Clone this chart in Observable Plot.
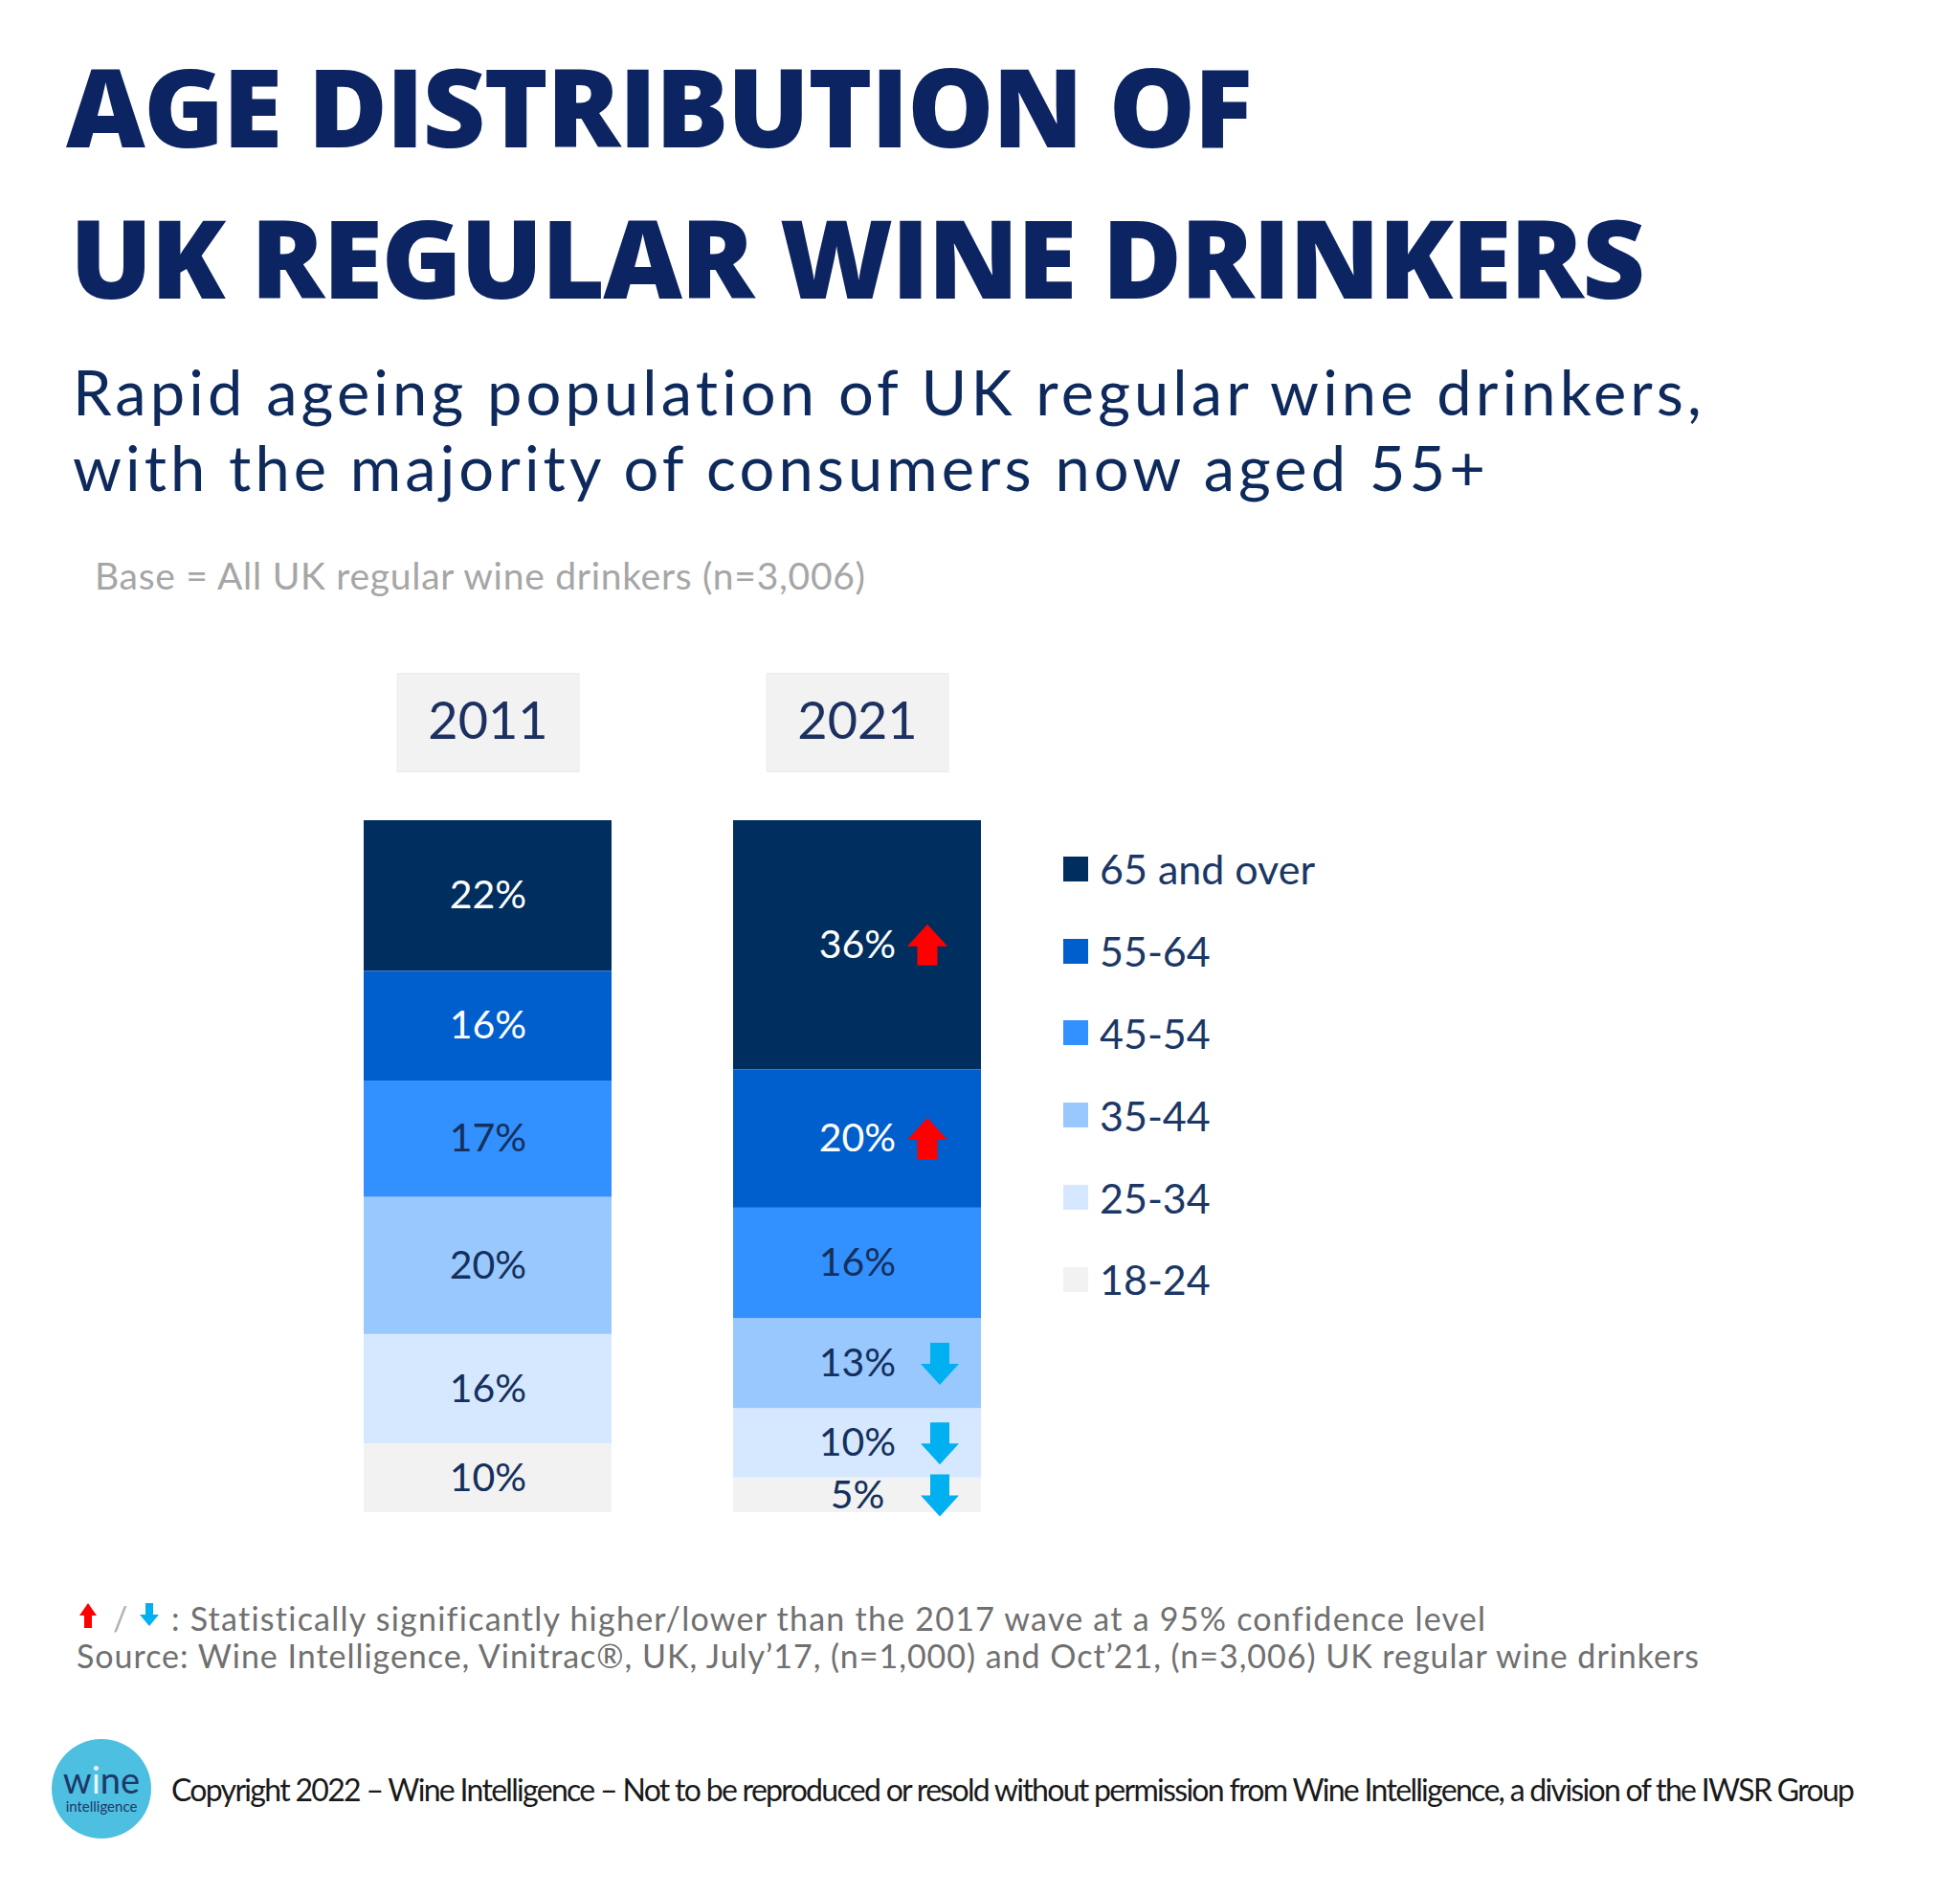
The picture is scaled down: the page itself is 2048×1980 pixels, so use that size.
<!DOCTYPE html>
<html>
<head>
<meta charset="utf-8">
<script src="https://cdn.jsdelivr.net/npm/d3@7"></script>
<script src="https://cdn.jsdelivr.net/npm/@observablehq/plot@0.6"></script>
<style>
  html, body { margin: 0; padding: 0; background: #ffffff; }
  #page { position: relative; width: 2048px; height: 1980px; overflow: hidden; background: #fff; }
  #overlay { position: absolute; left: 0; top: 0; }
  #chart { position: absolute; left: 0; top: 703px; }
  #legend { position: absolute; left: 1111px; top: 865px; width: 500px; }
  #legend > * { font-family: Lato, sans-serif !important; font-size: 43px !important; color: #1b3766 !important; margin: 0 !important; }
  #legend > * > div { display: flex !important; align-items: center !important; height: 85.8px !important; padding: 0 !important; }
  #legend > * > div > svg { margin-right: 12px !important; flex-shrink: 0; }
</style>
</head>
<body>
<div id="page">
  <svg id="overlay" width="2048" height="1980">
    <g font-family="'Open Sans', sans-serif" font-weight="800" fill="#0c2461" font-size="114">
      <text x="69" y="154" data-w="1240">AGE DISTRIBUTION OF</text>
      <text x="73" y="312" data-w="1646">UK REGULAR WINE DRINKERS</text>
    </g>
    <g font-family="Lato, sans-serif" fill="#0e2a5c" font-size="65">
      <text x="76" y="434" data-w="1703">Rapid ageing population of UK regular wine drinkers,</text>
      <text x="76" y="513" data-w="1476">with the majority of consumers now aged 55+</text>
    </g>
    <text x="99" y="616" font-family="Lato, sans-serif" font-size="39" fill="#a6a6a6" data-w="805">Base = All UK regular wine drinkers (n=3,006)</text>
    <g font-family="Lato, sans-serif" font-size="34" fill="#707070">
      <path d="M92,1675 L101,1688 L96,1688 L96,1701 L88,1701 L88,1688 L83,1688 Z" fill="#ff0000"/>
      <text x="118" y="1704" fill="#b0b0b0">/</text>
      <path d="M152,1675 L160,1675 L160,1687 L166,1687 L156,1699 L146,1687 L152,1687 Z" fill="#00b0f0"/>
      <text x="179" y="1704" data-w="1373">: Statistically significantly higher/lower than the 2017 wave at a 95% confidence level</text>
      <text x="80" y="1743" data-w="1695">Source: Wine Intelligence, Vinitrac®, UK, July’17, (n=1,000) and Oct’21, (n=3,006) UK regular wine drinkers</text>
    </g>
    <text x="179" y="1882" font-family="Lato, sans-serif" font-size="32" fill="#1a1a1a" data-w="1759">Copyright 2022 – Wine Intelligence – Not to be reproduced or resold without permission from Wine Intelligence, a division of the IWSR Group</text>
    <circle cx="106" cy="1869" r="52" fill="#4dbfe0"/>
    <text x="106" y="1874" text-anchor="middle" font-family="Lato, sans-serif" font-size="38" fill="#1d3869">w<tspan fill="#e8f6fb">i</tspan>ne</text>
    <text x="106" y="1893" text-anchor="middle" font-family="Lato, sans-serif" font-size="15" fill="#1d3869">intelligence</text>
  </svg>
  <div id="chart"></div>
  <div id="legend"></div>
</div>
<script>
// ---- data ----
const years = ["2011", "2021"];
const ageGroups = ["65 and over", "55-64", "45-54", "35-44", "25-34", "18-24"];
const share2011 = [22, 16, 17, 20, 16, 10];
const share2021 = [36, 20, 16, 13, 10, 5];
const change2011 = [null, null, null, null, null, null];
const change2021 = ["up", "up", null, "down", "down", "down"];
const ageColors = ["#002e5f", "#005fcc", "#3390ff", "#99c8ff", "#d6e8ff", "#f2f2f2"];
const darkAges = ["65 and over", "55-64"];

const sharesByYear = [share2011, share2021];
const changesByYear = [change2011, change2021];
const rows = years.flatMap((year, yi) =>
  ageGroups.map((age, ai) => ({year, age, value: sharesByYear[yi][ai], change: changesByYear[yi][ai]}))
);

// custom symbols
const boxSymbol = {draw(ctx) { ctx.rect(-95, -51.5, 190, 103); }};
const upArrow = {draw(ctx) {
  ctx.moveTo(0, -22); ctx.lineTo(21, 1); ctx.lineTo(10.5, 1); ctx.lineTo(10.5, 21);
  ctx.lineTo(-10.5, 21); ctx.lineTo(-10.5, 1); ctx.lineTo(-21, 1); ctx.closePath();
}};
const downArrow = {draw(ctx) {
  ctx.moveTo(-10, -22); ctx.lineTo(10, -22); ctx.lineTo(10, 0); ctx.lineTo(20, 0);
  ctx.lineTo(0, 22); ctx.lineTo(-20, 0); ctx.lineTo(-10, 0); ctx.closePath();
}};

const stack = {x: "year", y: "value", z: "age", order: [...ageGroups].reverse(), offset: "normalize"};

const chart = Plot.plot({
  width: 1100,
  height: 897,
  marginLeft: 380,
  marginRight: 75,
  marginTop: 154,
  marginBottom: 20,
  style: {background: "transparent", overflow: "visible", fontFamily: "Lato, sans-serif"},
  x: {domain: years, paddingInner: 0.33, paddingOuter: 0, axis: null},
  y: {domain: [0, 1], axis: null},
  color: {domain: ageGroups, range: ageColors},
  marks: [
    Plot.dot(years, {x: d => d, frameAnchor: "top", dy: -102.5, symbol: boxSymbol, r: 5, fill: "#f2f2f2", stroke: "#ececec", strokeWidth: 1}),
    Plot.text(years, {x: d => d, frameAnchor: "top", dy: -102.5, text: d => d, lineAnchor: "middle", fontSize: 54, fontFamily: "Lato, sans-serif", fill: "#1c3160"}),
    Plot.barY(rows, Plot.stackY({...stack, fill: "age"})),
    Plot.text(rows, Plot.stackY({...stack, text: d => darkAges.includes(d.age) ? d.value + "%" : null, fill: "#ffffff", fontSize: 41, fontFamily: "Lato, sans-serif"})),
    Plot.text(rows, Plot.stackY({...stack, text: d => darkAges.includes(d.age) ? null : d.value + "%", fill: "#14305c", fontSize: 41, fontFamily: "Lato, sans-serif"})),
    Plot.dot(rows, Plot.stackY({...stack, r: d => d.change === "up" ? 1 : null, symbol: upArrow, fill: "#ff0000", dx: 73})),
    Plot.dot(rows, Plot.stackY({...stack, r: d => d.change === "down" ? 1 : null, symbol: downArrow, fill: "#00b0f0", dx: 86}))
  ]
});
document.getElementById("chart").appendChild(chart);

const legend = Plot.legend({
  color: {domain: ageGroups, range: ageColors},
  legend: "swatches",
  columns: 1,
  swatchSize: 26,
  className: "lg"
});
document.getElementById("legend").appendChild(legend);

function fit() {
  document.querySelectorAll("#overlay text[data-w]").forEach(t => {
    t.style.letterSpacing = "0px";
    const len = t.getComputedTextLength();
    const n = t.textContent.length;
    const target = +t.dataset.w;
    t.style.letterSpacing = ((target - len) / (n - 1)) + "px";
  });
}
fit();
if (document.fonts && document.fonts.ready) document.fonts.ready.then(fit);
</script>
</body>
</html>
